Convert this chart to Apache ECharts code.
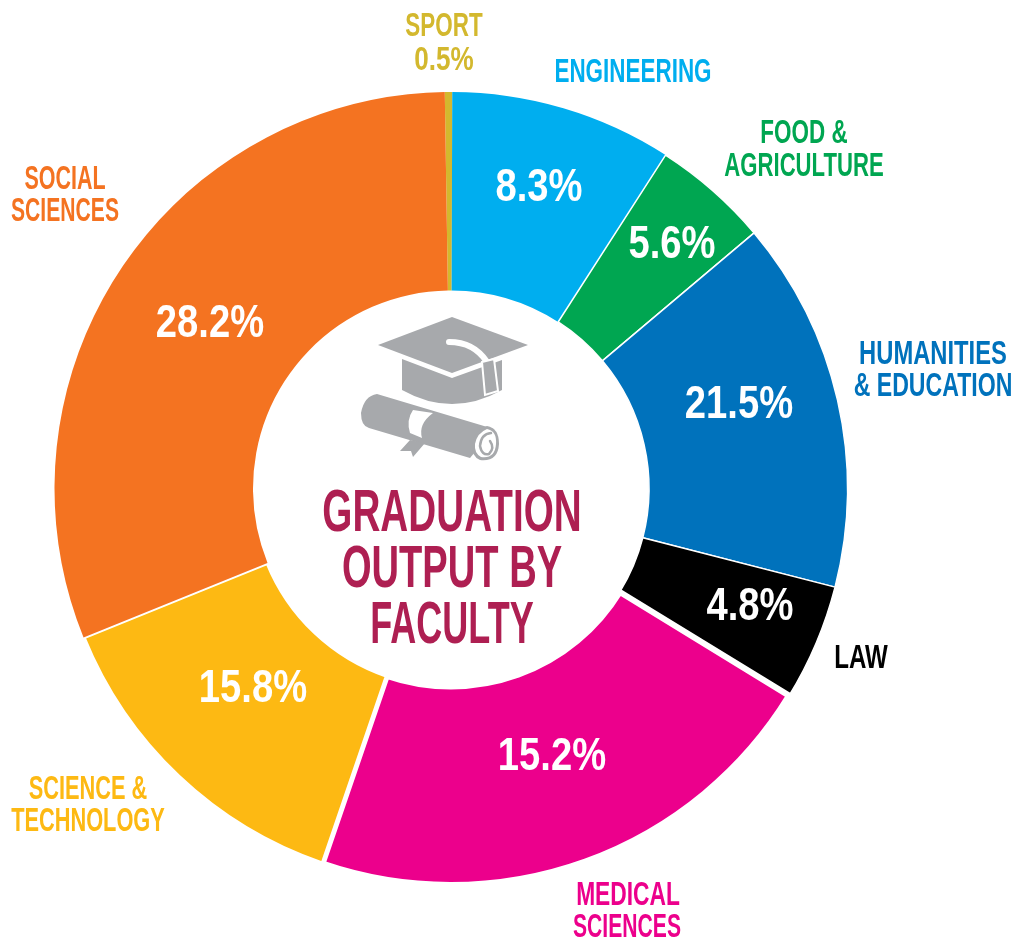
<!DOCTYPE html>
<html>
<head>
<meta charset="utf-8">
<title>Graduation output by faculty</title>
<script src="https://cdn.jsdelivr.net/npm/echarts@6/dist/echarts.min.js"></script>
<style>
  html, body { margin: 0; padding: 0; background: #fff; }
  #chart { width: 1016px; height: 943px; }
</style>
</head>
<body>
<div id="chart"></div>
<script>
// clockwise from the top
const categories = ["SPORT", "ENGINEERING", "FOOD & AGRICULTURE", "HUMANITIES & EDUCATION", "LAW", "MEDICAL SCIENCES", "SCIENCE & TECHNOLOGY", "SOCIAL SCIENCES"];
// printed on the picture
const printedPercent = [0.5, 8.3, 5.6, 21.5, 4.8, 15.2, 15.8, 28.2];
// share of the ring each slice really takes in the picture (differs from the printed numbers)
const sliceShare = [0.3, 9.05, 4.75, 15.15, 4.75, 21.5, 13.62, 30.88];
const colors = ["#d3b82e", "#00aeef", "#00a651", "#0072bc", "#000000", "#ec008c", "#fdb913", "#f47321"];
const titleLines = ["GRADUATION", "OUTPUT BY", "FACULTY"];

const FONT = '"Liberation Sans", sans-serif';
const CX = 451, CY = 488.5;
const ICON = "#a7a9ac";

// label centres, no condensed font is installed so the text gets squeezed with scaleX
const pctPos = [[444, 61], [539, 188], [672, 245], [739, 405], [750, 607], [552, 757], [253, 689], [210, 324]];
const borders = [0, 0, 1.5, 1.5, 1.5, 6, 4, 0];
const nameLines = [
  [["SPORT", 444, 27, 0.68]],
  [["ENGINEERING", 633, 73, 0.68]],
  [["FOOD &", 804, 134, 0.68], ["AGRICULTURE", 804, 167, 0.67]],
  [["HUMANITIES", 933, 355, 0.72], ["& EDUCATION", 933, 387, 0.7]],
  [["LAW", 861, 659, 0.73]],
  [["MEDICAL", 628, 896, 0.69], ["SCIENCES", 627, 928, 0.64]],
  [["SCIENCE &", 88, 790, 0.66], ["TECHNOLOGY", 88, 822, 0.66]],
  [["SOCIAL", 65, 180, 0.65], ["SCIENCES", 65, 212, 0.64]]
];
const titleScale = [0.645, 0.635, 0.6];

function textEl(text, x, y, size, color, sx) {
  return {
    type: "text", x: x, y: y, scaleX: sx, silent: true, z: 10,
    style: { text: text, fill: color, font: "bold " + size + "px " + FONT, align: "center", verticalAlign: "middle" }
  };
}

const graphics = [];
categories.forEach((c, i) => {
  nameLines[i].forEach(l => graphics.push(textEl(l[0], l[1], l[2], 33, colors[i], l[3])));
  const sport = i === 0;
  graphics.push(textEl(printedPercent[i].toFixed(1) + "%", pctPos[i][0], pctPos[i][1], sport ? 33 : 46, sport ? colors[i] : "#ffffff", sport ? 0.79 : 0.83));
});
titleLines.forEach((t, i) => graphics.push(textEl(t, 452, 514 + i * 56, 60, "#ae1f52", titleScale[i])));

// cap and diploma icon
function icon(d, fill, stroke, w) {
  return { type: "path", shape: { pathData: d }, style: { fill: fill || "none", stroke: stroke || "none", lineWidth: w || 0, lineCap: "round" } };
}
const iconParts = [
  icon("M402 359 L402 390 Q452 418 502 390 L502 360 L452 378 Z", ICON),
  icon("M378 345 L452 317 L528 345 L452 373 Z", ICON),
  icon("M449 342 Q474 342 487 362", null, "#ffffff", 6),
  icon("M482 362 L494 359 L498 391 L485 395 Z", ICON, "#ffffff", 2),
  icon("M377 394 Q364 396 361 413 Q361 426 369 428 L470 458 L494 429 Z", ICON),
  icon("M413 410 Q406 420 410 433 L422 438 Q418 424 433 413 Z", "#ffffff"),
  icon("M410 440 L425 443 L413 457 L411 451 L400 451 Z", ICON),
  icon("M487 426 Q499 428 499 444 Q498 462 480 460 Q471 456 472 444 Q474 430 487 426 Z", ICON),
  icon("M487 429 Q497 431 496 444 Q495 459 481 457 Q474 453 475 444 Q477 433 487 429 Z", "#ffffff"),
  icon("M491 433 Q481 434 480 446 Q482 456 489 454 Q495 448 490 441", null, ICON, 2.5)
];

const chart = echarts.init(document.getElementById("chart"), null, { renderer: "canvas" });
chart.setOption({
  animation: false,
  backgroundColor: "#ffffff",
  graphic: graphics,
  series: [{
    type: "pie",
    center: [CX, CY],
    radius: [198, 396.5],
    startAngle: 90.9,
    clockwise: true,
    silent: true,
    data: categories.map((name, i) => ({
      name: name,
      value: sliceShare[i],
      itemStyle: { color: colors[i], borderColor: "#ffffff", borderWidth: borders[i] }
    })),
    label: { show: false },
    labelLine: { show: false }
  }, {
    type: "custom",
    coordinateSystem: "none",
    silent: true,
    z: 9,
    data: [0],
    renderItem: function () {
      return { type: "group", children: iconParts };
    }
  }]
});
</script>
</body>
</html>
